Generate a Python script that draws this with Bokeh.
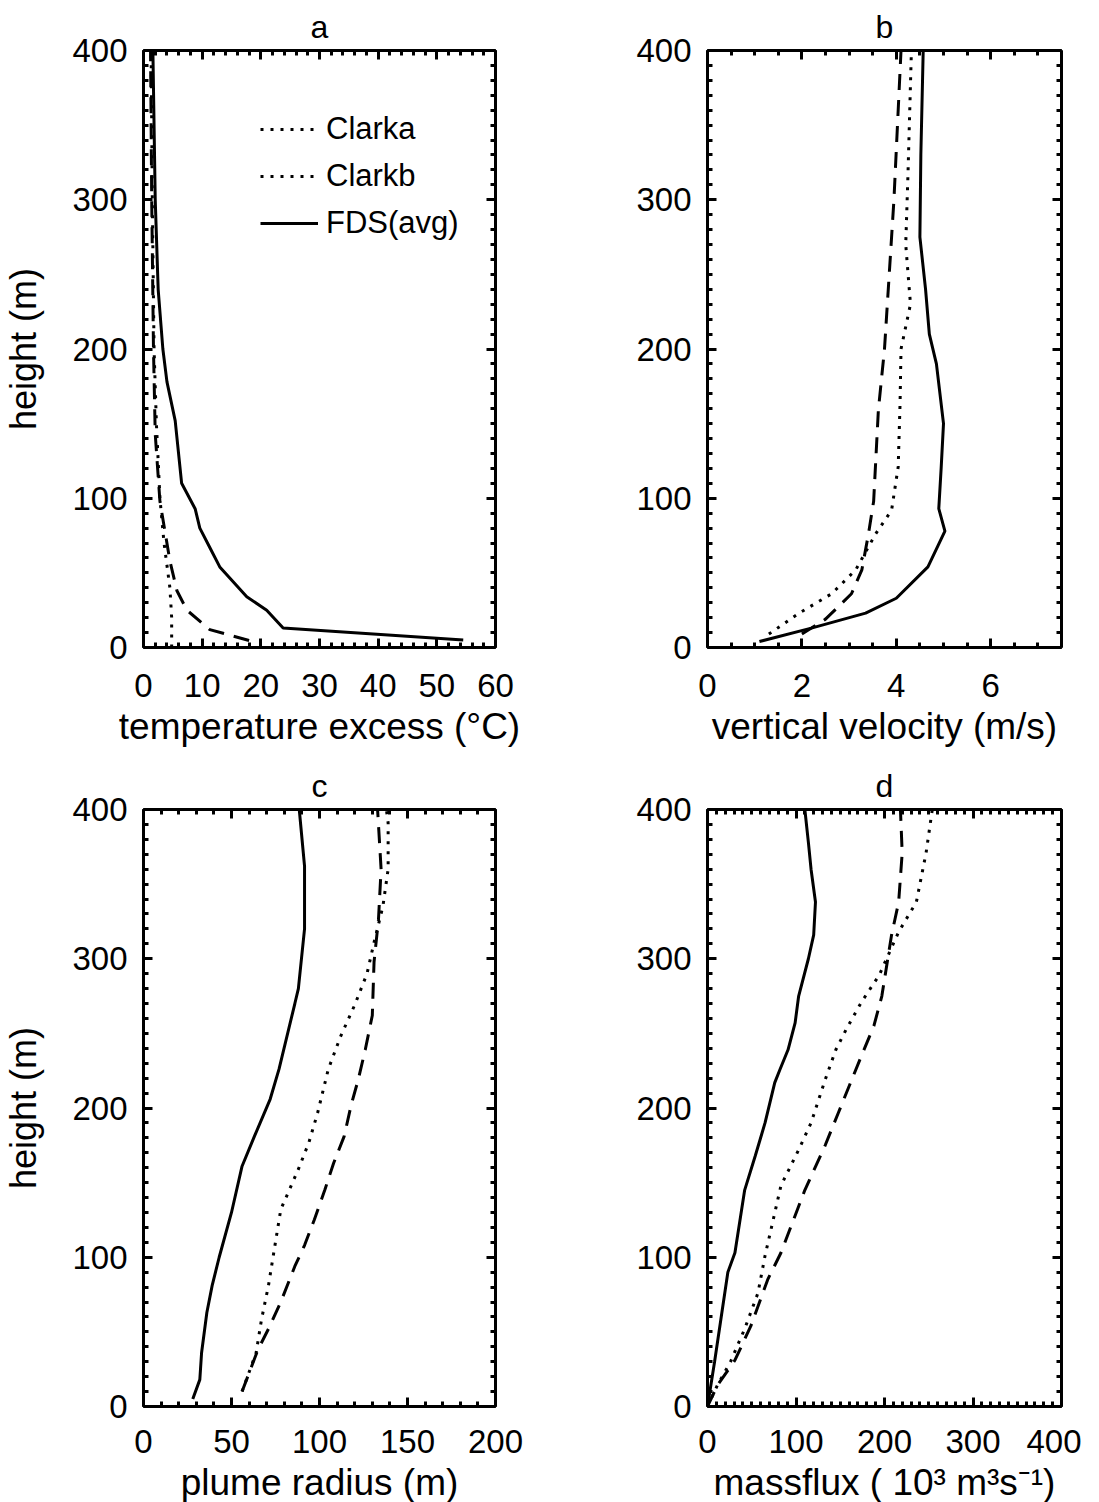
from bokeh.plotting import figure
from bokeh.models import (LinearAxis, FixedTicker, Legend, LegendItem, Range1d,
                          CustomLabelingPolicy)
from bokeh.layouts import column, row
from bokeh.embed import file_html
from bokeh.resources import INLINE

FONT = "Liberation Sans"
NAN = float("nan")

# ---------------- data ----------------
# panel a: temperature excess (C) vs height (m)
a_clarka_x = [4.8, 4.8, 4.5, 3.5, 2.8, 2.2, 1.8, 1.5, 1.3]
a_clarka_y = [0, 20, 40, 70, 100, 150, 200, 300, 400]
a_clarkb_x = [18, 11.3, 7.4, 5.7, 4.5, 2.8, 2.0, 1.7, 1.4, 1.2]
a_clarkb_y = [4.7, 12, 25, 38, 58, 98, 143, 200, 300, 400]
a_fds_x = [54.5, 23.8, 21, 17.6, 13, 11.3, 9.6, 8.8, 6.5, 5.4, 4.0, 3.3, 2.5, 2.0, 1.6]
a_fds_y = [5, 13, 25, 34, 54, 67, 80, 93, 110, 152, 178, 200, 240, 300, 400]

# panel b: vertical velocity (m/s)
b_clarka_x = [1.3, 1.94, 2.63, 3.14, 3.56, 3.9, 4.04, 4.08, 4.1, 4.3, 4.2, 4.25, 4.32]
b_clarka_y = [9, 23, 36, 52, 76, 92, 121, 164, 200, 230, 270, 320, 400]
b_clarkb_x = [2.0, 2.5, 3.05, 3.27, 3.41, 3.52, 3.62, 3.75, 3.85, 3.95, 4.1]
b_clarkb_y = [9, 19, 36, 52, 76, 98, 159, 200, 250, 300, 400]
b_fds_x = [1.1, 2.2, 3.35, 4.0, 4.67, 5.03, 4.9, 4.95, 5.0, 4.85, 4.7, 4.62, 4.5, 4.52, 4.57]
b_fds_y = [4, 13, 23, 33, 54, 78, 93, 120, 150, 190, 210, 240, 275, 330, 400]

# panel c: plume radius (m)
c_clarka_x = [56, 64, 67, 71, 74, 78, 88, 94, 99, 105, 112, 120, 127, 131, 136, 139, 139, 138]
c_clarka_y = [10, 36, 58, 81, 103, 132, 159, 177, 197, 226, 248, 269, 290, 311, 335, 360, 391, 400]
c_clarkb_x = [56, 65, 71, 78, 86, 91.5, 97, 103, 108, 114, 118, 122, 126, 130, 131, 133.5, 135, 133]
c_clarkb_y = [10, 38, 52, 70, 94, 108, 125, 145, 163, 181, 202, 219, 239, 262, 298, 326, 360, 400]
c_fds_x = [28, 32, 33, 36, 39, 43, 50, 56, 63, 72, 77, 86, 88, 91.5, 91.5, 88.5]
c_fds_y = [5, 18, 36, 63, 81, 100, 130, 161, 181, 206, 226, 270, 280, 320, 362, 400]

# panel d: massflux (10^3 m^3 s^-1)
d_clarka_x = [0, 11, 26, 42, 57, 65, 83, 103, 117, 133, 145, 157, 174, 194, 216, 236, 247, 254]
d_clarka_y = [0, 14, 30, 52, 76, 101, 148, 172, 190, 219, 239, 253, 271, 289, 318, 338, 371, 400]
d_clarkb_x = [0, 11, 31, 49, 68, 83, 110, 133, 148, 163, 174, 188, 197, 208, 216, 220, 218]
d_clarkb_y = [0, 14, 31, 54, 85, 103, 145, 175, 197, 219, 235, 255, 275, 316, 338, 371, 400]
d_fds_x = [0, 8, 15, 23, 31, 42, 54, 65, 76, 82, 91, 99, 103, 114, 120, 122, 117, 114, 110]
d_fds_y = [0, 30, 58, 90, 103, 145, 168, 190, 217, 226, 239, 257, 275, 300, 316, 338, 360, 378, 400]

y_ticks = [0, 100, 200, 300, 400]
y_minor = list(range(0, 401, 10))

panels = [
    dict(title="a", xr=(0, 60), xt=[0, 10, 20, 30, 40, 50, 60], xm=list(range(0, 61, 2)),
         xlabel="temperature excess (°C)", ylabel="height (m)",
         series=[(a_clarka_x, a_clarka_y), (a_clarkb_x, a_clarkb_y), (a_fds_x, a_fds_y)]),
    dict(title="b", xr=(0, 7.5), xt=[0, 2, 4, 6], xm=[i * 0.5 for i in range(16)],
         xlabel="vertical velocity (m/s)", ylabel=None,
         series=[(b_clarka_x, b_clarka_y), (b_clarkb_x, b_clarkb_y), (b_fds_x, b_fds_y)]),
    dict(title="c", xr=(0, 200), xt=[0, 50, 100, 150, 200], xm=list(range(0, 201, 10)),
         xlabel="plume radius (m)", ylabel="height (m)",
         series=[(c_clarka_x, c_clarka_y), (c_clarkb_x, c_clarkb_y), (c_fds_x, c_fds_y)]),
    dict(title="d", xr=(0, 400), xt=[0, 100, 200, 300, 400], xm=list(range(0, 401, 10)),
         xlabel="massflux ( 10³ m³s⁻¹)", ylabel=None,
         series=[(d_clarka_x, d_clarka_y), (d_clarkb_x, d_clarkb_y), (d_fds_x, d_fds_y)]),
]

DOT = "3 7"
DASH = "16 10"
styles = [DOT, DASH, "solid"]
legend_labels = ["Clarka", "Clarkb", "FDS(avg)"]
legend_dashes = [DOT, DOT, "solid"]

TICK_FS = "33px"
XLABEL_FS = "37px"
YLABEL_FS = "36px"

NO_LABELS = CustomLabelingPolicy(code="""
const all = Array.from(indices)
for (const i of all) { indices.unset(i) }
return indices
""")


def style_axis(ax, show_labels):
    ax.axis_line_width = 3
    ax.major_tick_line_width = 3
    ax.minor_tick_line_width = 3
    ax.major_tick_in = 9
    ax.major_tick_out = 0
    ax.minor_tick_in = 5
    ax.minor_tick_out = 0
    ax.major_label_text_font = FONT
    ax.axis_label_text_font = FONT
    ax.axis_label_text_font_style = "normal"
    ax.axis_label_text_color = "black"
    ax.major_label_text_color = "black"
    if show_labels:
        ax.major_label_text_font_size = TICK_FS
    else:
        ax.major_label_text_font_size = "0px"
        ax.major_label_policy = NO_LABELS
        ax.major_label_standoff = 0


def make(pd, idx):
    left = 135 if pd["ylabel"] else 172
    top = 48 if idx < 2 else 49
    bottom = 112 if idx < 2 else 90
    p = figure(frame_width=352 if idx % 2 == 0 else 354, frame_height=597,
               x_range=Range1d(*pd["xr"]), y_range=Range1d(0, 400),
               output_backend="svg", toolbar_location=None,
               min_border_left=left, min_border_right=20 if idx % 2 else 40,
               min_border_top=top, min_border_bottom=bottom)
    p.grid.visible = False
    p.outline_line_color = None
    p.background_fill_color = "white"
    p.border_fill_color = "white"
    p.title.text = pd["title"]
    p.title.align = "center"
    p.title.text_font = FONT
    p.title.text_font_size = "32px"
    p.title.text_font_style = "normal"
    p.title.text_color = "black"
    p.title.standoff = 12

    p.xaxis.ticker = FixedTicker(ticks=pd["xt"], minor_ticks=pd["xm"])
    p.yaxis.ticker = FixedTicker(ticks=y_ticks, minor_ticks=y_minor)
    p.xaxis.axis_label = pd["xlabel"]
    if pd["ylabel"]:
        p.yaxis.axis_label = pd["ylabel"]
    for ax in p.xaxis:
        style_axis(ax, True)
        ax.major_label_standoff = 26 if idx < 2 else 23
        ax.axis_label_standoff = 6
        ax.axis_label_text_font_size = XLABEL_FS
    for ax in p.yaxis:
        style_axis(ax, True)
        ax.major_label_standoff = 16
        ax.axis_label_standoff = 25
        ax.axis_label_text_font_size = YLABEL_FS
    top_ax = LinearAxis(ticker=FixedTicker(ticks=pd["xt"], minor_ticks=pd["xm"]))
    right_ax = LinearAxis(ticker=FixedTicker(ticks=y_ticks, minor_ticks=y_minor))
    style_axis(top_ax, False)
    style_axis(right_ax, False)
    p.add_layout(top_ax, "above")
    p.add_layout(right_ax, "right")

    for (xs, ys), dash in zip(pd["series"], styles):
        p.line(xs, ys, line_color="black", line_width=3, line_cap="butt", line_dash=dash)

    if idx == 0:
        dummies = []
        for dash in legend_dashes:
            dummies.append(p.line(x=[NAN], y=[NAN], line_color="black", line_width=3,
                                  line_cap="butt", line_dash=dash))
        items = [LegendItem(label=l, renderers=[r]) for l, r in zip(legend_labels, dummies)]
        leg = Legend(items=items, location=(117, 406), padding=0, spacing=11,
                     glyph_width=58, glyph_height=30, label_height=30, label_standoff=8,
                     label_text_font=FONT, label_text_font_size="31px",
                     label_text_color="black",
                     border_line_color=None, background_fill_alpha=0, margin=0)
        p.add_layout(leg, "center")
    return p


figs = [make(pd, i) for i, pd in enumerate(panels)]
layout = column(row(figs[0], figs[1]), row(figs[2], figs[3]))
open("out.html", "w").write(file_html(layout, INLINE))
